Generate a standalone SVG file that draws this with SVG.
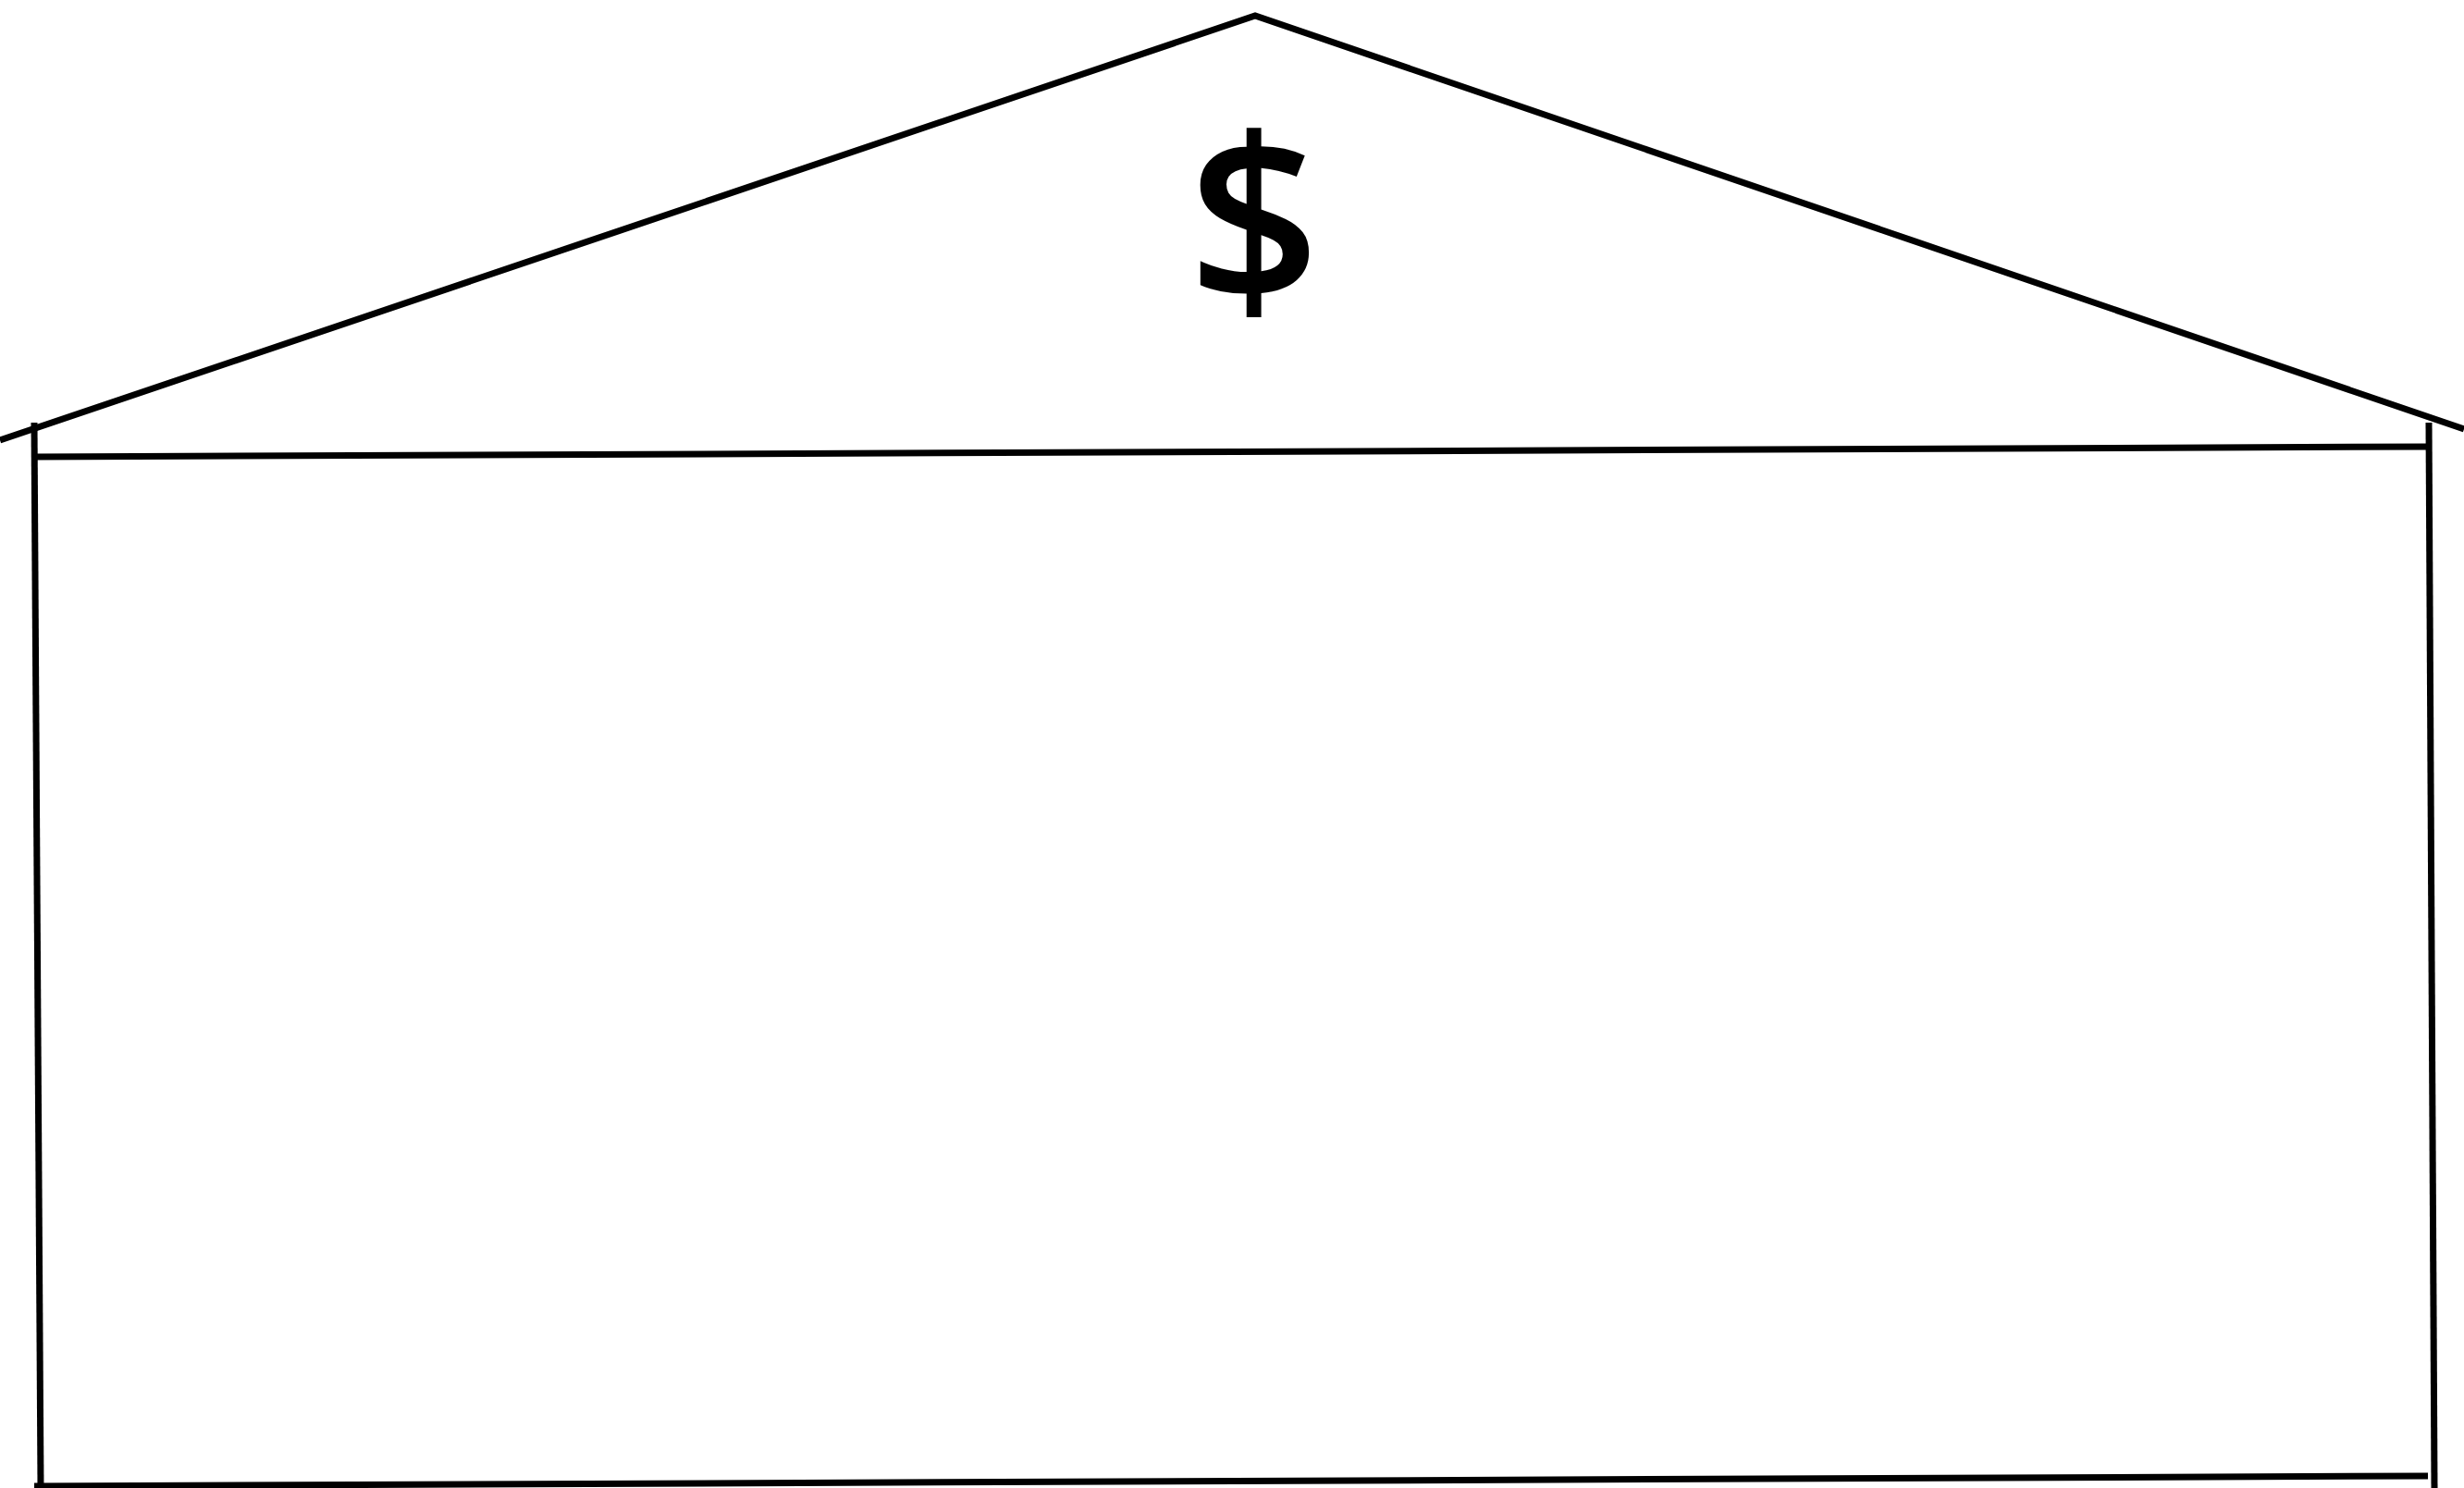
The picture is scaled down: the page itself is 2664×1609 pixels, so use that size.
<svg xmlns="http://www.w3.org/2000/svg" width="2664" height="1609" viewBox="0 0 2664 1609">
<style>
.ln{fill:none;stroke:#000;stroke-width:7;stroke-linecap:butt}
.sym{font-family:"Open Sans","Noto Sans",sans-serif;font-weight:600;font-size:250px;fill:#000}
</style>
<rect width="2664" height="1609" fill="#fff"/>
<g id="roof">
<polyline class="ln" points="0,476 1357,17 2664,464"/>
</g>
<g id="building">
<line class="ln" x1="37" y1="457" x2="44" y2="1609"/>
<line class="ln" x1="2626" y1="457" x2="2632" y2="1609"/>
<line class="ln" x1="37" y1="494" x2="2626" y2="483"/>
<line class="ln" x1="37" y1="1607" x2="2625" y2="1596"/>
</g>
<g id="dollar">
<text class="sym" x="1356" y="328" text-anchor="middle">$</text>
</g>
</svg>
